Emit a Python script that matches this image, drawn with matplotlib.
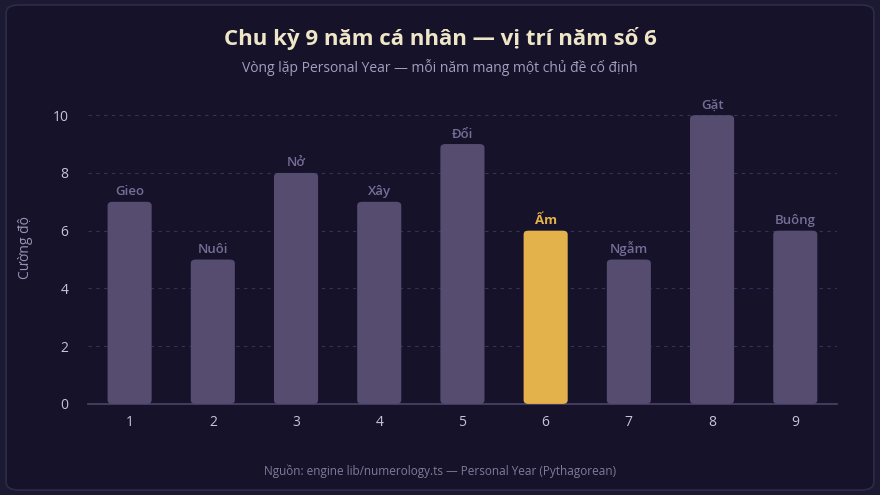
import matplotlib.pyplot as plt
from matplotlib.patches import FancyBboxPatch

years = [1, 2, 3, 4, 5, 6, 7, 8, 9]
values = [7, 5, 8, 7, 9, 6, 5, 10, 6]
themes = ["Gieo", "Nuôi", "Nở", "Xây", "Đổi", "Ấm", "Ngẫm", "Gặt", "Buông"]
current = 6

plt.rcParams['font.family'] = ['Open Sans', 'DejaVu Sans']

bg = '#15122a'
bar_col = '#554c70'
hi_col = '#e4b24a'

fig = plt.figure(figsize=(8.8, 4.95), dpi=100)
fig.patch.set_facecolor('#1c1933')
panel = FancyBboxPatch((0.007, 0.01), 0.986, 0.98, boxstyle='round,pad=0,rounding_size=0.015',
                       transform=fig.transFigure, facecolor=bg, edgecolor='#2e2a48', linewidth=1.2,
                       zorder=-10)
fig.patches.append(panel)

ax = fig.add_axes([0.1, 0.184, 0.851, 0.63])
ax.set_facecolor('none')

colors = [hi_col if y == current else bar_col for y in years]
bars = ax.bar(years, values, width=0.53, color=colors, zorder=3)
# rounded tops
for b in bars:
    b.set_visible(False)
    p = FancyBboxPatch((b.get_x(), 0), b.get_width(), b.get_height(),
                       boxstyle='round,pad=0,rounding_size=0.06', mutation_aspect=2.2,
                       facecolor=b.get_facecolor(), edgecolor='none', zorder=3)
    ax.add_patch(p)

for y, v, t in zip(years, values, themes):
    c = hi_col if y == current else '#766d96'
    ax.text(y, v + 0.12, t, ha='center', va='bottom', color=c, fontsize=9.5,
            fontweight='bold' if y == current else 'semibold', zorder=4)

ax.set_xlim(0.5, 9.5)
ax.set_ylim(0, 10.8)
ax.set_xticks(years)
ax.set_yticks([0, 2, 4, 6, 8, 10])
ax.tick_params(axis='both', length=0, colors='#c9c2dc', labelsize=10)
ax.tick_params(axis='x', pad=8)
ax.tick_params(axis='y', pad=14)
ax.yaxis.grid(True, linestyle=(0, (3, 4)), color='#37325a', linewidth=0.8, zorder=0)
for s in ['top', 'right', 'left']:
    ax.spines[s].set_visible(False)
ax.spines['bottom'].set_color('#4a4568')
ax.spines['bottom'].set_linewidth(1.2)
ax.set_ylabel('Cường độ', color='#9a92b5', fontsize=10, labelpad=14)

fig.text(0.5, 0.922, 'Chu kỳ 9 năm cá nhân — vị trí năm số 6', ha='center', va='center',
         color='#efe6c8', fontsize=16, fontweight='bold')
fig.text(0.5, 0.863, 'Vòng lặp Personal Year — mỗi năm mang một chủ đề cố định', ha='center',
         va='center', color='#a59dbf', fontsize=10)
fig.text(0.5, 0.047, 'Nguồn: engine lib/numerology.ts — Personal Year (Pythagorean)', ha='center',
         va='center', color='#817a9c', fontsize=8.5)

fig.savefig('out.png', dpi=100, facecolor=fig.get_facecolor())
